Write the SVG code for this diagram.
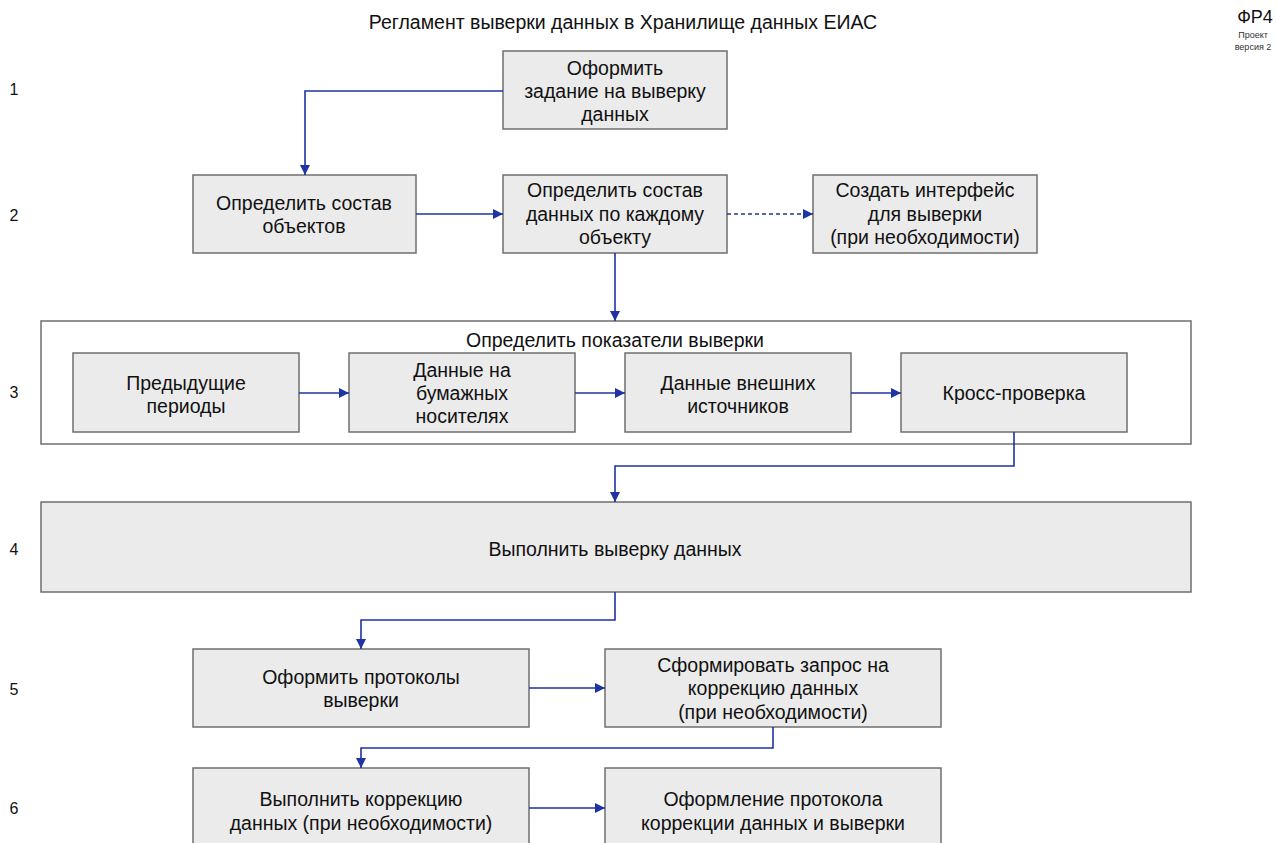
<svg xmlns="http://www.w3.org/2000/svg" width="1277" height="843" viewBox="0 0 1277 843">
<defs>
<style>
.t{font-family:"Liberation Sans",Arial,sans-serif;font-size:19.5px;fill:#111;text-anchor:middle}
.n{font-family:"Liberation Sans",Arial,sans-serif;font-size:16px;fill:#111;text-anchor:middle}
.b{fill:#ebebeb;stroke:#6f6f6f;stroke-width:1.5}
.c{fill:#fff;stroke:#6f6f6f;stroke-width:1.5}
.l{fill:none;stroke:#1f33a3;stroke-width:1.6}
.d{stroke-dasharray:4 3}
</style>
<marker id="a" viewBox="0 0 10 10" refX="10" refY="5" markerWidth="10" markerHeight="10" markerUnits="userSpaceOnUse" orient="auto"><path d="M0,0 L10,5 L0,10 z" fill="#1f33a3"/></marker>
</defs>
<rect width="1277" height="843" fill="#fff"/>
<text class="t" x="623" y="29">Регламент выверки данных в Хранилище данных ЕИАС</text>
<text x="1255" y="23" style="font-family:'Liberation Sans',Arial,sans-serif;font-size:18px;text-anchor:middle;fill:#111">ФР4</text>
<text x="1253" y="38" style="font-family:'Liberation Sans',Arial,sans-serif;font-size:9px;text-anchor:middle;fill:#333">Проект</text>
<text x="1253" y="50" style="font-family:'Liberation Sans',Arial,sans-serif;font-size:9px;text-anchor:middle;fill:#333">версия 2</text>
<g id="rows">
<text class="n" x="14" y="95">1</text>
<text class="n" x="14" y="221">2</text>
<text class="n" x="14" y="398">3</text>
<text class="n" x="14" y="555">4</text>
<text class="n" x="14" y="695">5</text>
<text class="n" x="14" y="814">6</text>
</g>
<g id="n1"><rect class="b" x="503" y="51" width="224" height="78"/>
<text class="t" x="615" y="75">Оформить</text><text class="t" x="615" y="98">задание на выверку</text><text class="t" x="615" y="121">данных</text></g>
<g id="n2a"><rect class="b" x="193" y="175" width="223" height="78"/>
<text class="t" x="304" y="210">Определить состав</text><text class="t" x="304" y="233">объектов</text></g>
<g id="n2b"><rect class="b" x="503" y="175" width="224" height="78"/>
<text class="t" x="615" y="197">Определить состав</text><text class="t" x="615" y="221">данных по каждому</text><text class="t" x="615" y="244">объекту</text></g>
<g id="n2c"><rect class="b" x="813" y="175" width="224" height="78"/>
<text class="t" x="925" y="197">Создать интерфейс</text><text class="t" x="925" y="221">для выверки</text><text class="t" x="925" y="244">(при необходимости)</text></g>
<g id="n3"><rect class="c" x="41" y="321" width="1150" height="123"/>
<text class="t" x="615" y="347">Определить показатели выверки</text></g>
<g id="n3a"><rect class="b" x="73" y="353" width="226" height="79"/>
<text class="t" x="186" y="390">Предыдущие</text><text class="t" x="186" y="413">периоды</text></g>
<g id="n3b"><rect class="b" x="349" y="353" width="226" height="79"/>
<text class="t" x="462" y="377">Данные на</text><text class="t" x="462" y="400">бумажных</text><text class="t" x="462" y="423">носителях</text></g>
<g id="n3c"><rect class="b" x="625" y="353" width="226" height="79"/>
<text class="t" x="738" y="390">Данные внешних</text><text class="t" x="738" y="413">источников</text></g>
<g id="n3d"><rect class="b" x="901" y="353" width="226" height="79"/>
<text class="t" x="1014" y="400">Кросс-проверка</text></g>
<g id="n4"><rect class="b" x="41" y="502" width="1150" height="90"/>
<text class="t" x="615" y="556">Выполнить выверку данных</text></g>
<g id="n5a"><rect class="b" x="193" y="649" width="336" height="78"/>
<text class="t" x="361" y="684">Оформить протоколы</text><text class="t" x="361" y="707">выверки</text></g>
<g id="n5b"><rect class="b" x="605" y="649" width="336" height="78"/>
<text class="t" x="773" y="672">Сформировать запрос на</text><text class="t" x="773" y="695">коррекцию данных</text><text class="t" x="773" y="719">(при необходимости)</text></g>
<g id="n6a"><rect class="b" x="193" y="768" width="336" height="90"/>
<text class="t" x="361" y="806">Выполнить коррекцию</text><text class="t" x="361" y="830">данных (при необходимости)</text></g>
<g id="n6b"><rect class="b" x="605" y="768" width="336" height="90"/>
<text class="t" x="773" y="806">Оформление протокола</text><text class="t" x="773" y="830">коррекции данных и выверки</text></g>
<g id="connectors">
<path class="l" d="M503,91 H305 V175" marker-end="url(#a)"/>
<path class="l" d="M416,214 H503" marker-end="url(#a)"/>
<path class="l d" d="M727,214 H813" marker-end="url(#a)"/>
<path class="l" d="M615,253 V321" marker-end="url(#a)"/>
<path class="l" d="M299,393 H349" marker-end="url(#a)"/>
<path class="l" d="M575,393 H625" marker-end="url(#a)"/>
<path class="l" d="M851,393 H901" marker-end="url(#a)"/>
<path class="l" d="M1014,432 V466 H615 V502" marker-end="url(#a)"/>
<path class="l" d="M615,592 V620 H361 V649" marker-end="url(#a)"/>
<path class="l" d="M529,688 H605" marker-end="url(#a)"/>
<path class="l" d="M773,727 V748 H361 V768" marker-end="url(#a)"/>
<path class="l" d="M529,808 H605" marker-end="url(#a)"/>
</g>
</svg>
